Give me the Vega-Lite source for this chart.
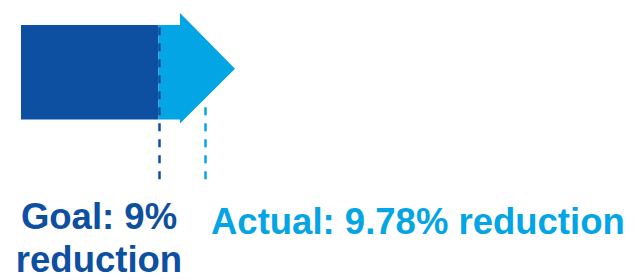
{
  "$schema": "https://vega.github.io/schema/vega-lite/v6.json",
  "width": 640,
  "height": 280,
  "autosize": {"type": "fit", "contains": "padding"},
  "padding": 0,
  "background": "white",
  "config": {"view": {"stroke": null}},
  "datasets": {
    "bars": [
      {"part": "goal", "x0": 21, "x1": 158.5, "y0": 25, "y1": 120},
      {"part": "actual", "x0": 158.5, "x1": 180, "y0": 25, "y1": 120}
    ],
    "head": [
      {"hx": 180, "top": 13, "bottom": 124},
      {"hx": 235, "top": 69, "bottom": 69}
    ],
    "guides": [
      {"part": "goal", "gx": 159.5, "from": 180, "to": 25},
      {"part": "actual", "gx": 205.5, "from": 180, "to": 103}
    ],
    "labels": [
      {"part": "goal", "lx": 99, "ly": 201, "label": "Goal: 9%\nreduction"},
      {"part": "actual", "lx": 211, "ly": 206, "label": "Actual: 9.78% reduction"}
    ]
  },
  "layer": [
    {
      "data": {"name": "bars"},
      "mark": {"type": "rect"},
      "encoding": {
        "x": {"field": "x0", "type": "quantitative", "scale": {"domain": [0, 640], "nice": false, "zero": false}, "axis": null},
        "x2": {"field": "x1"},
        "y": {"field": "y0", "type": "quantitative", "scale": {"domain": [0, 280], "nice": false, "zero": false, "reverse": true}, "axis": null},
        "y2": {"field": "y1"},
        "color": {"field": "part", "type": "nominal", "scale": {"domain": ["goal", "actual"], "range": ["#0d4fa1", "#04a5e4"]}, "legend": null}
      }
    },
    {
      "data": {"name": "head"},
      "mark": {"type": "area", "color": "#04a5e4"},
      "encoding": {
        "x": {"field": "hx", "type": "quantitative"},
        "y": {"field": "top", "type": "quantitative"},
        "y2": {"field": "bottom"}
      }
    },
    {
      "data": {"name": "guides"},
      "mark": {"type": "rule", "strokeWidth": 2.5, "strokeDash": [8, 8]},
      "encoding": {
        "x": {"field": "gx", "type": "quantitative"},
        "y": {"field": "from", "type": "quantitative"},
        "y2": {"field": "to"},
        "color": {"field": "part", "type": "nominal", "legend": null}
      }
    },
    {
      "data": {"name": "labels"},
      "transform": [{"filter": "datum.part === 'goal'"}],
      "mark": {"type": "text", "align": "center", "font": "Liberation Sans", "fontWeight": "bold", "fontSize": 36.5, "baseline": "top", "lineBreak": "\n", "lineHeight": 43},
      "encoding": {
        "x": {"field": "lx", "type": "quantitative"},
        "y": {"field": "ly", "type": "quantitative"},
        "text": {"field": "label"},
        "color": {"field": "part", "type": "nominal", "legend": null}
      }
    },
    {
      "data": {"name": "labels"},
      "transform": [{"filter": "datum.part === 'actual'"}],
      "mark": {"type": "text", "align": "left", "font": "Liberation Sans", "fontWeight": "bold", "fontSize": 36.5, "baseline": "top"},
      "encoding": {
        "x": {"field": "lx", "type": "quantitative"},
        "y": {"field": "ly", "type": "quantitative"},
        "text": {"field": "label"},
        "color": {"field": "part", "type": "nominal", "legend": null}
      }
    }
  ]
}
